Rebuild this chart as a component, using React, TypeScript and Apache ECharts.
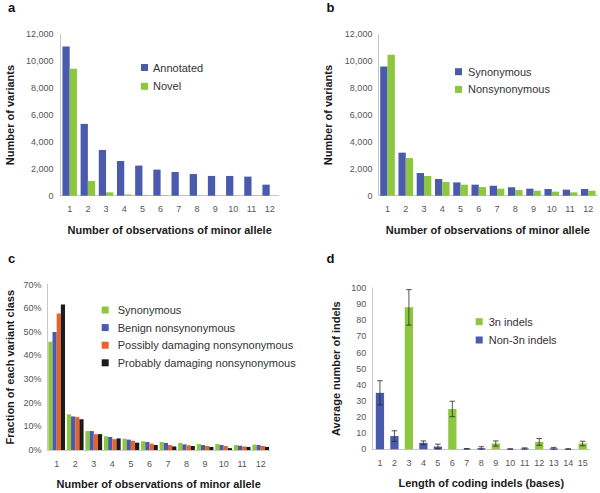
import React, { useEffect, useRef } from "react";
import * as echarts from "echarts";

// ---------- data ----------
const obsCategories = ["1", "2", "3", "4", "5", "6", "7", "8", "9", "10", "11", "12"];
const annotated = [11100, 5340, 3400, 2580, 2240, 1940, 1760, 1610, 1470, 1470, 1420, 820];
const novel = [9440, 1090, 250, 90, 55, 40, 15, 10, 10, 8, 8, 5];

const synonymousB = [9610, 3200, 1690, 1240, 990, 820, 740, 620, 520, 500, 450, 500];
const nonsynonymousB = [10480, 2800, 1470, 1020, 820, 640, 520, 420, 370, 300, 250, 370];

const synC = [45.8, 15.1, 8.0, 5.8, 4.8, 3.7, 3.4, 3.0, 2.5, 2.5, 2.1, 2.3];
const benignC = [49.9, 14.2, 8.0, 5.5, 4.4, 3.4, 3.0, 2.4, 2.1, 2.1, 1.8, 2.1];
const possiblyC = [57.7, 14.0, 6.7, 4.6, 3.9, 2.7, 2.1, 2.0, 1.7, 1.7, 1.5, 1.7];
const probablyC = [61.5, 13.0, 6.7, 4.9, 3.1, 2.1, 1.5, 1.7, 1.3, 0.8, 1.3, 1.3];

const indelCategories = ["1", "2", "3", "4", "5", "6", "7", "8", "9", "10", "11", "12", "13", "14", "15"];
const threeN = [null, null, 88, null, null, 25, null, null, 3.6, null, null, 4.6, null, null, 3.6];
const nonThreeN = [35, 8.2, null, 4, 1.7, null, 0.3, 0.7, null, 0.2, 0.5, null, 0.6, 0.2, null];
const indelErr = [7.5, 3.3, 11, 1.2, 1.5, 4.8, 0.2, 0.9, 1.6, 0.15, 0.4, 2.1, 0.6, 0.15, 1.4];

// ---------- styles ----------
const BLUE = "#4a5aad";
const GREEN = "#8dc63f";
const ORANGE = "#e9622d";
const BLACK = "#1b1b1b";
const FONT = "Liberation Sans, Arial, sans-serif";
const AXIS_COLOR = "#c8c8c8";
const LABEL_COLOR = "#555";

function catAxis(gridIndex: number, data: string[], name: string, nameGap: number) {
  return {
    type: "category",
    gridIndex,
    data,
    name,
    nameLocation: "middle",
    nameGap,
    nameTextStyle: { fontFamily: FONT, fontSize: 11, fontWeight: "bold", color: "#1a1a1a" },
    axisLine: { show: true, lineStyle: { color: AXIS_COLOR, width: 1 } },
    axisTick: { show: false },
    axisLabel: { fontFamily: FONT, fontSize: 9, color: LABEL_COLOR, margin: 9, interval: 0 },
    splitLine: { show: false },
  };
}

function valAxis(
  gridIndex: number,
  max: number,
  interval: number,
  name: string,
  nameGap: number,
  formatter: (v: number) => string,
  margin: number
) {
  return {
    type: "value",
    gridIndex,
    min: 0,
    max,
    interval,
    name,
    nameLocation: "middle",
    nameRotate: 90,
    nameGap,
    nameTextStyle: { fontFamily: FONT, fontSize: 11, fontWeight: "bold", color: "#1a1a1a" },
    axisLine: { show: true, lineStyle: { color: AXIS_COLOR, width: 1 } },
    axisTick: { show: false },
    axisLabel: { fontFamily: FONT, fontSize: 9, color: LABEL_COLOR, margin, formatter },
    splitLine: { show: false },
  };
}

function legend(left: number, top: number, names: string[], itemGap: number, textPad = 0) {
  return {
    orient: "vertical",
    left,
    top,
    padding: 0,
    itemGap,
    itemWidth: 7,
    itemHeight: 7,
    icon: "rect",
    selectedMode: false,
    data: names,
    formatter: (n: string) => n.replace(/^c-/, ""),
    textStyle: {
      fontFamily: FONT,
      fontSize: 11,
      color: "#333",
      lineHeight: 12,
      padding: [0, 0, 0, textPad],
    },
  };
}

const commaFmt = (v: number) => v.toLocaleString("en-US");
const pctFmt = (v: number) => `${v}%`;

function panelLetter(text: string, x: number, y: number) {
  return {
    type: "text",
    x,
    y,
    style: {
      text,
      fontFamily: FONT,
      fontSize: 13,
      fontWeight: "bold",
      fill: "#111",
      verticalAlign: "middle",
      align: "left",
    },
  };
}

export default function App() {
  const ref = useRef<HTMLDivElement>(null);

  useEffect(() => {
    if (!ref.current) return;
    const chart = echarts.init(ref.current, undefined, { renderer: "svg" });

    const indelValues = indelCategories.map((_, i) =>
      threeN[i] != null ? (threeN[i] as number) : (nonThreeN[i] as number)
    );
    const errData = indelCategories.map((_, i) => [
      i,
      Math.max(0, indelValues[i] - indelErr[i]),
      indelValues[i] + indelErr[i],
    ]);

    const option: any = {
      animation: false,
      backgroundColor: "#fff",
      textStyle: { fontFamily: FONT },
      grid: [
        { left: 60.6, top: 34.3, width: 218.2, height: 161.4, outerBoundsMode: "none" },
        { left: 378.4, top: 34.3, width: 219, height: 161.4, outerBoundsMode: "none" },
        { left: 47.4, top: 284.5, width: 222.6, height: 165.5, outerBoundsMode: "none" },
        { left: 372.7, top: 288, width: 217.2, height: 161.3, outerBoundsMode: "none" },
      ],
      xAxis: [
        catAxis(0, obsCategories, "Number of observations of minor allele", 29),
        catAxis(1, obsCategories, "Number of observations of minor allele", 29),
        catAxis(2, obsCategories, "Number of observations of minor allele", 28),
        catAxis(3, indelCategories, "Length of coding indels (bases)", 28.5),
      ],
      yAxis: [
        valAxis(0, 12000, 2000, "Number of variants", 45, commaFmt, 7),
        valAxis(1, 12000, 2000, "Number of variants", 45, commaFmt, 6),
        valAxis(2, 70, 10, "Fraction of each variant class", 32, pctFmt, 6),
        valAxis(3, 100, 10, "Average number of indels", 31, (v: number) => `${v}`, 6.5),
      ],
      legend: [
        legend(141, 61.5, ["Annotated", "Novel"], 6.8),
        legend(455, 65.7, ["Synonymous", "Nonsynonymous"], 5.7, 1),
        legend(101.7, 304, [
          "c-Synonymous",
          "Benign nonsynonymous",
          "Possibly damaging nonsynonymous",
          "Probably damaging nonsynonymous",
        ], 5.6, 4),
        legend(475.7, 315.7, ["3n indels", "Non-3n indels"], 6.3, 1),
      ],
      series: [
        { name: "Annotated", type: "bar", xAxisIndex: 0, yAxisIndex: 0, data: annotated, itemStyle: { color: BLUE }, barGap: "0%", barCategoryGap: "20%" },
        { name: "Novel", type: "bar", xAxisIndex: 0, yAxisIndex: 0, data: novel, itemStyle: { color: GREEN }, barGap: "0%", barCategoryGap: "20%" },

        { name: "Synonymous", type: "bar", xAxisIndex: 1, yAxisIndex: 1, data: synonymousB, itemStyle: { color: BLUE }, barGap: "0%", barCategoryGap: "20%" },
        { name: "Nonsynonymous", type: "bar", xAxisIndex: 1, yAxisIndex: 1, data: nonsynonymousB, itemStyle: { color: GREEN }, barGap: "0%", barCategoryGap: "20%" },

        { name: "c-Synonymous", type: "bar", xAxisIndex: 2, yAxisIndex: 2, data: synC, itemStyle: { color: GREEN }, barGap: "0%", barCategoryGap: "10%" },
        { name: "Benign nonsynonymous", type: "bar", xAxisIndex: 2, yAxisIndex: 2, data: benignC, itemStyle: { color: BLUE }, barGap: "0%", barCategoryGap: "10%" },
        { name: "Possibly damaging nonsynonymous", type: "bar", xAxisIndex: 2, yAxisIndex: 2, data: possiblyC, itemStyle: { color: ORANGE }, barGap: "0%", barCategoryGap: "10%" },
        { name: "Probably damaging nonsynonymous", type: "bar", xAxisIndex: 2, yAxisIndex: 2, data: probablyC, itemStyle: { color: BLACK }, barGap: "0%", barCategoryGap: "10%" },

        { name: "3n indels", type: "bar", xAxisIndex: 3, yAxisIndex: 3, data: threeN.map((v) => (v == null ? "-" : v)), itemStyle: { color: GREEN }, barGap: "-100%", barCategoryGap: "43%" },
        { name: "Non-3n indels", type: "bar", xAxisIndex: 3, yAxisIndex: 3, data: nonThreeN.map((v) => (v == null ? "-" : v)), itemStyle: { color: BLUE }, barGap: "-100%", barCategoryGap: "43%" },
        {
          name: "error",
          type: "custom",
          xAxisIndex: 3,
          yAxisIndex: 3,
          data: errData,
          z: 10,
          renderItem: (params: any, api: any) => {
            const x = api.value(0);
            const lo = api.coord([x, api.value(1)]);
            const hi = api.coord([x, api.value(2)]);
            const half = 2.8;
            const style = { stroke: "#2a2a2a", lineWidth: 0.8 };
            return {
              type: "group",
              children: [
                { type: "line", shape: { x1: lo[0], y1: lo[1], x2: hi[0], y2: hi[1] }, style },
                { type: "line", shape: { x1: hi[0] - half, y1: hi[1], x2: hi[0] + half, y2: hi[1] }, style },
                { type: "line", shape: { x1: lo[0] - half, y1: lo[1], x2: lo[0] + half, y2: lo[1] }, style },
              ],
            };
          },
        },
      ],
      graphic: [
        panelLetter("a", 8, 7.5),
        panelLetter("b", 326.5, 7.5),
        panelLetter("c", 8, 258),
        panelLetter("d", 326.5, 258),
      ],
    };

    chart.setOption(option);
    return () => chart.dispose();
  }, []);

  return (
    <div
      ref={ref}
      style={{ position: "fixed", left: 0, top: 0, width: 600, height: 493, background: "#fff" }}
    />
  );
}
